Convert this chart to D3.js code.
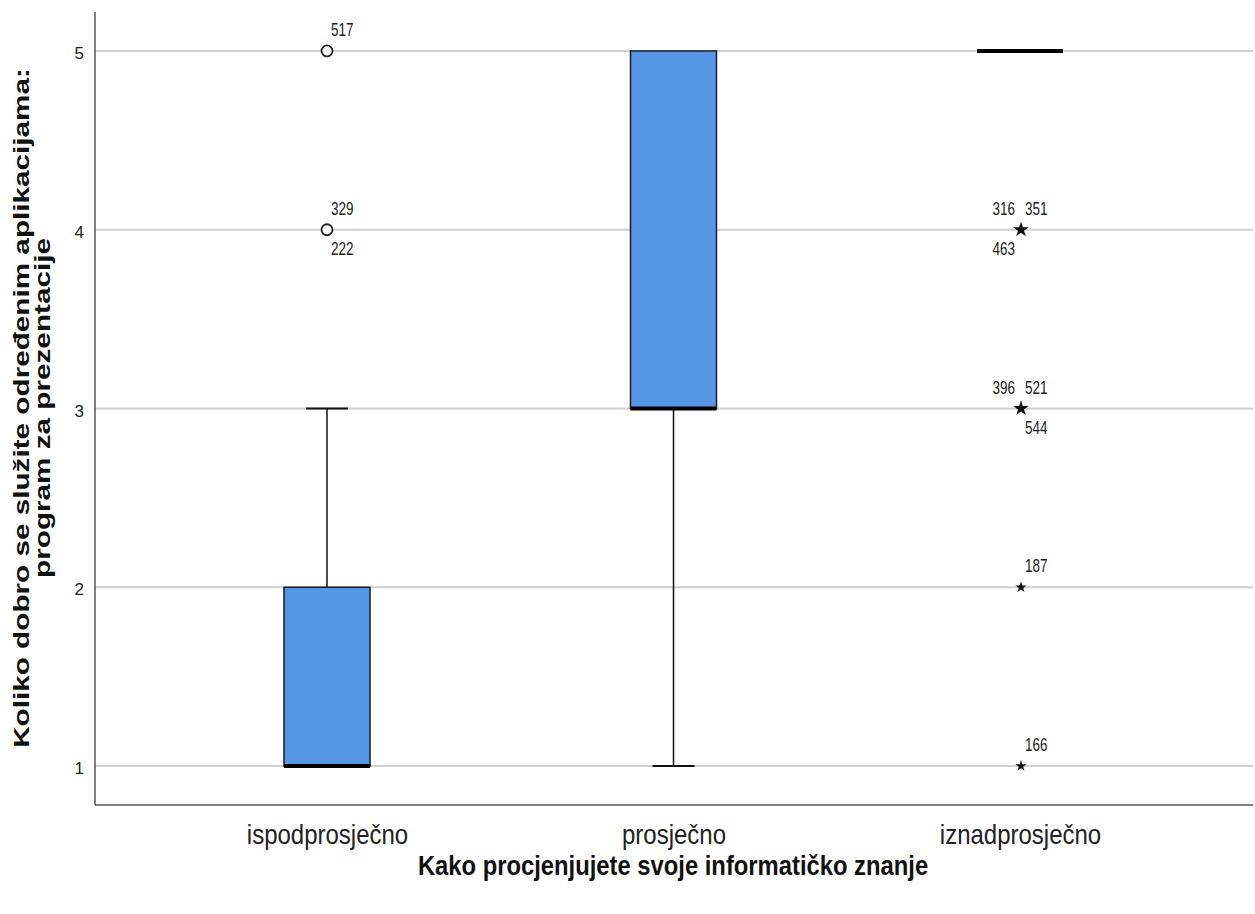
<!DOCTYPE html>
<html><head><meta charset="utf-8">
<script src="https://cdn.jsdelivr.net/npm/d3@7"></script>
<style>body{margin:0;background:#fff}svg{display:block}</style>
</head><body>
<svg id="c" width="1255" height="914"></svg>
<script>
const categories = ["ispodprosječno", "prosječno", "iznadprosječno"];
const whiskerLow  = [1, 1, 5];
const q1          = [1, 3, 5];
const median      = [1, 3, 5];
const q3          = [2, 5, 5];
const whiskerHigh = [3, 5, 5];
// outliers
const outlierCat   = ["ispodprosječno", "ispodprosječno", "iznadprosječno", "iznadprosječno", "iznadprosječno", "iznadprosječno"];
const outlierValue = [5, 4, 4, 3, 2, 1];
const outlierType  = ["circle", "circle", "star", "star", "star", "star"];
const outlierCount = [1, 2, 3, 3, 1, 1];
const outlierIds   = [["517"], ["329", "222"], ["316", "351", "463"], ["396", "521", "544"], ["187"], ["166"]];
const labelSlots   = [["ur"], ["ur", "dr"], ["ul", "ur", "dl"], ["ul", "ur", "dr"], ["ur"], ["ur"]];
const yTicks = [1, 2, 3, 4, 5];
const xTitle = "Kako procjenjujete svoje informatičko znanje";
const yTitle = ["Koliko dobro se služite određenim aplikacijama:", "program za prezentacije"];

(function () {
const svg = d3.select("#c");
const pL = 95, pR = 1253, pT = 12, pB = 805;
const y = d3.scaleLinear().domain([0.782, 5.218]).range([pB, pT]);
const x = d3.scalePoint().domain(categories).range([327, 1020]);
const boxW = 86, capW = 42;
const font = "Liberation Sans, Arial, sans-serif";

svg.append("g").selectAll("line").data(yTicks).join("line")
  .attr("x1", pL).attr("x2", pR)
  .attr("y1", d => y(d)).attr("y2", d => y(d))
  .attr("stroke", "#d0d0d0").attr("stroke-width", 2);

const yAxis = svg.append("g").attr("transform", `translate(${pL},0)`)
  .call(d3.axisLeft(y).tickValues(yTicks).tickFormat(d3.format("d")).tickSize(0).tickPadding(11));
yAxis.select(".domain").attr("d", `M0,${pT}V${pB}`).attr("stroke", "#555").attr("stroke-width", 1.5);
yAxis.selectAll("text").attr("font-family", font).attr("font-size", 17).attr("fill", "#222").attr("dy", "0.45em");

const xAxis = svg.append("g").attr("transform", `translate(0,${pB})`)
  .call(d3.axisBottom(x).tickSize(0));
xAxis.select(".domain").attr("d", `M${pL},0H${pR}`).attr("stroke", "#555").attr("stroke-width", 1.5);
xAxis.selectAll("text").attr("font-family", font).attr("font-size", 24).attr("fill", "#222")
  .attr("y", 0).attr("dy", 0).attr("transform", "translate(0,39) scale(1,1.16)");

const g = svg.append("g");
categories.forEach((c, i) => {
  const cx = x(c);
  if (whiskerLow[i] < q1[i]) {
    g.append("line").attr("x1", cx).attr("x2", cx).attr("y1", y(whiskerLow[i])).attr("y2", y(q1[i])).attr("stroke", "#111").attr("stroke-width", 1.5);
    g.append("line").attr("x1", cx - capW / 2).attr("x2", cx + capW / 2).attr("y1", y(whiskerLow[i])).attr("y2", y(whiskerLow[i])).attr("stroke", "#111").attr("stroke-width", 2);
  }
  if (whiskerHigh[i] > q3[i]) {
    g.append("line").attr("x1", cx).attr("x2", cx).attr("y1", y(whiskerHigh[i])).attr("y2", y(q3[i])).attr("stroke", "#111").attr("stroke-width", 1.5);
    g.append("line").attr("x1", cx - capW / 2).attr("x2", cx + capW / 2).attr("y1", y(whiskerHigh[i])).attr("y2", y(whiskerHigh[i])).attr("stroke", "#111").attr("stroke-width", 2);
  }
  if (q3[i] > q1[i]) {
    g.append("rect").attr("x", cx - boxW / 2).attr("width", boxW)
      .attr("y", y(q3[i])).attr("height", y(q1[i]) - y(q3[i]))
      .attr("fill", "#5597e4").attr("stroke", "#1a1a2a").attr("stroke-width", 1.5);
  }
  g.append("line").attr("x1", cx - boxW / 2).attr("x2", cx + boxW / 2)
    .attr("y1", y(median[i])).attr("y2", y(median[i]))
    .attr("stroke", "#000").attr("stroke-width", 4);
});

const star = d3.symbol().type(d3.symbolStar);
const lab = svg.append("g").attr("font-family", font).attr("font-size", 13.5).attr("fill", "#222");
outlierValue.forEach((v, k) => {
  const cx = x(outlierCat[k]) + (outlierType[k] === "star" ? 1 : 0), cy = y(v);
  if (outlierType[k] === "circle") {
    svg.append("circle").attr("cx", cx).attr("cy", cy).attr("r", 5.5).attr("fill", "#fff").attr("stroke", "#222").attr("stroke-width", 1.8);
  } else {
    const big = outlierCount[k] > 1;
    svg.append("path").attr("d", star.size(big ? 75 : 40)()).attr("transform", `translate(${cx},${cy})`).attr("fill", "#111");
  }
  outlierIds[k].forEach((t, j) => {
    const s = labelSlots[k][j];
    const tx = s[1] === "r" ? cx + 4 : cx - 6;
    const ty = s[0] === "u" ? cy - 15 : cy + 25;
    lab.append("text").attr("text-anchor", s[1] === "r" ? "start" : "end")
      .attr("transform", `translate(${tx},${ty}) scale(1,1.4)`).text(t);
  });
});

svg.append("text").attr("text-anchor", "middle")
  .attr("transform", "translate(673,875) scale(1,1.18)")
  .attr("font-family", font).attr("font-weight", "bold").attr("font-size", 23.8).attr("fill", "#111").text(xTitle);
const yt = svg.append("text").attr("transform", "translate(0,408) rotate(-90) scale(1.35,1)").attr("text-anchor", "middle")
  .attr("font-family", font).attr("font-weight", "bold").attr("font-size", 22).attr("fill", "#111");
yt.append("tspan").attr("x", 0).attr("y", 29).text(yTitle[0]);
yt.append("tspan").attr("x", 0).attr("y", 50).text(yTitle[1]);
})();
</script>
</body></html>
